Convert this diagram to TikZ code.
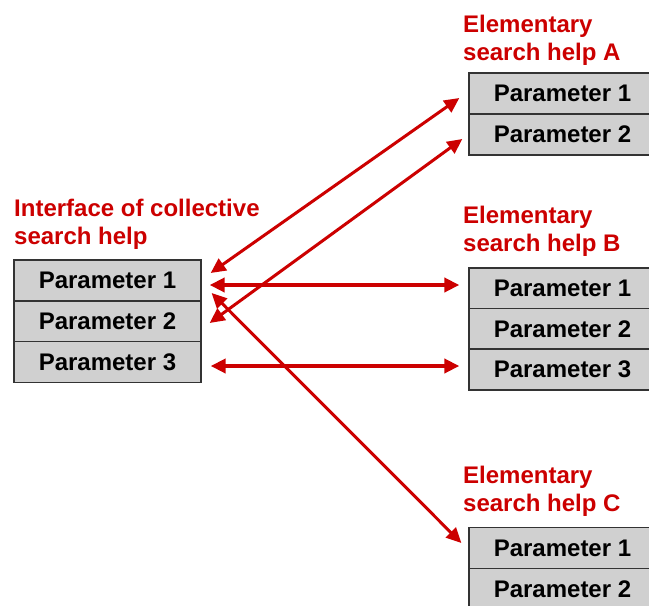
\documentclass[tikz,border=0pt]{standalone}
\usepackage{fontspec}
\setmainfont{Liberation Sans}
\usetikzlibrary{arrows.meta,calc}
\definecolor{sapred}{HTML}{CC0000}
\definecolor{boxgray}{HTML}{D0D0D0}
\definecolor{boxline}{HTML}{333333}
\begin{document}
\begin{tikzpicture}[x=1pt,y=-1pt,
  param/.style={draw=boxline,line width=1.3pt,fill=boxgray,minimum width=187pt,minimum height=41pt,
    inner sep=0pt,font=\fontsize{24}{28}\selectfont\bfseries},
  title/.style={anchor=base west,inner sep=0pt,text=sapred,font=\fontsize{24}{28}\selectfont\bfseries},
  link/.style={draw=sapred,line width=3pt,{Triangle[length=15pt,width=14pt]}-{Triangle[length=15pt,width=14pt]}},
  hlink/.style={link,line width=4pt}]
\clip (0,0) rectangle (649,606);
\fill[white] (0,0) rectangle (649,606);
% left interface
\node[title] (tL) at (14,216) {\begin{tabular}[t]{@{}l@{}}Interface of collective\\search help\end{tabular}};
\node[param] (L1) at (107.5,280.5) {Parameter 1};
\node[param] (L2) at (107.5,321.5) {Parameter 2};
\node[param] (L3) at (107.5,362) {Parameter 3};
% A
\node[title] (tA) at (463,32) {\begin{tabular}[t]{@{}l@{}}Elementary\\search help A\end{tabular}};
\node[param] (A1) at (562.5,93.5) {Parameter 1};
\node[param] (A2) at (562.5,134.5) {Parameter 2};
% B
\node[title] (tB) at (463,223.5) {\begin{tabular}[t]{@{}l@{}}Elementary\\search help B\end{tabular}};
\node[param] (B1) at (562.5,288.5) {Parameter 1};
\node[param] (B2) at (562.5,329) {Parameter 2};
\node[param] (B3) at (562.5,369.5) {Parameter 3};
% C
\node[title] (tC) at (463,483.5) {\begin{tabular}[t]{@{}l@{}}Elementary\\search help C\end{tabular}};
\node[param] (C1) at (562.5,548) {Parameter 1};
\node[param] (C2) at (562.5,589) {Parameter 2};
% connectors
\draw[link] ($(L1.east)+(9,-7.5)$) -- ($(A1.west)+(-9,4.5)$);
\draw[link] ($(L2.east)+(8,1.5)$) -- ($(A2.west)+(-6,4.5)$);
\draw[hlink] ($(L1.east)+(8,4.5)$) -- ($(B1.west)+(-9,-3.5)$);
\draw[hlink] ($(L3.east)+(9,4)$) -- ($(B3.west)+(-9,-3.5)$);
\draw[link] ($(L1.east)+(10,12.5)$) -- ($(C1.west)+(-7,-5)$);
\end{tikzpicture}
\end{document}
